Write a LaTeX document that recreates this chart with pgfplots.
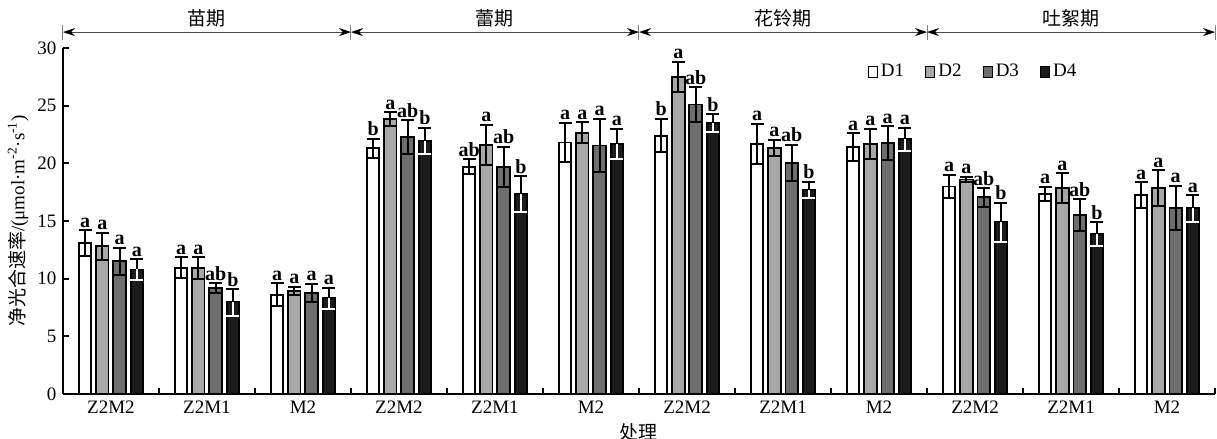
\documentclass[border=0pt]{standalone}
\usepackage{fontspec}
\setmainfont{Liberation Serif}
\newfontfamily\cjk{Noto Sans CJK SC}
\usepackage{pgfplots}
\usepackage{pgfplotstable}
\pgfplotsset{compat=1.18}
\usetikzlibrary{arrows.meta}

\definecolor{cD2}{HTML}{A8A8A8}
\definecolor{cD3}{HTML}{6E6E6E}
\definecolor{cD4}{HTML}{1C1C1C}

\pgfplotstableread{
x y e lab
0 13.1 1.1 a
1 10.95 0.9 a
2 8.6 1.0 a
3 21.3 0.85 b
4 19.7 0.65 ab
5 21.8 1.7 a
6 22.4 1.45 b
7 21.7 1.75 a
8 21.4 1.2 a
9 18.0 1.0 a
10 17.35 0.6 a
11 17.25 1.1 a
}\dA
\pgfplotstableread{
x y e lab
0 12.8 1.2 a
1 10.9 0.95 a
2 8.95 0.35 a
3 23.85 0.6 a
4 21.6 1.75 a
5 22.65 0.9 a
6 27.5 1.3 a
7 21.35 0.7 a
8 21.7 1.3 a
9 18.6 0.25 a
10 17.85 1.3 a
11 17.85 1.55 a
}\dB
\pgfplotstableread{
x y e lab
0 11.5 1.2 a
1 9.2 0.4 ab
2 8.75 0.8 a
3 22.3 1.45 ab
4 19.7 1.75 ab
5 21.55 2.3 a
6 25.1 1.5 ab
7 20.05 1.55 ab
8 21.75 1.45 a
9 17.05 0.8 ab
10 15.5 1.4 ab
11 16.15 1.9 a
}\dC
\pgfplotstableread{
x y e lab
0 10.8 0.9 a
1 7.95 1.15 b
2 8.3 0.9 a
3 21.95 1.15 b
4 17.35 1.55 b
5 21.7 1.3 a
6 23.5 0.75 b
7 17.7 0.7 b
8 22.1 1.0 a
9 14.9 1.7 b
10 13.85 1.05 b
11 16.1 1.15 a
}\dD

\pgfplotsset{
  mylab/.style={draw=none, mark=none, forget plot, nodes near coords, point meta=explicit symbolic,
    every node near coord/.append style={anchor=south, inner sep=1.2pt, font=\bfseries\fontsize{10}{10}\selectfont, black}},
}
\tikzset{
  brk/.style={gray!60!black, line width=0.5pt, {Stealth[length=6pt,width=4pt,black]}-{Stealth[length=6pt,width=4pt,black]}},
  btk/.style={gray, line width=0.5pt},
}

\begin{document}
\fontsize{9.5}{11}\selectfont
\begin{tikzpicture}
\begin{axis}[
  at={(0pt,0pt)}, anchor=south west,
  scale only axis, width=576pt, height=173pt,
  xmin=-0.5, xmax=11.5, ymin=0, ymax=30,
  axis x line*=bottom, axis y line*=left,
  axis line style={line width=1pt},
  ytick={0,5,...,30},
  xtick={0,...,11},
  xticklabels={Z2M2,Z2M1,M2,Z2M2,Z2M1,M2,Z2M2,Z2M1,M2,Z2M2,Z2M1,M2},
  minor xtick={-0.5,0.5,...,11.5},
  tick align=inside,
  major tick length=3pt, minor tick length=3pt,
  tick style={line width=1pt, black},
  every major x tick/.append style={draw=none},
  clip=false,
  /pgf/number format/assume math mode=true,
  xlabel={\cjk 处理},
  xlabel style={at={(rel axis cs:0.5,-0.11)}, anchor=center},
  ylabel={{\cjk 净光合速率}/(μmol·m\textsuperscript{-2}·s\textsuperscript{-1})},
  ylabel style={at={(rel axis cs:-0.039,0.5)}, anchor=center},
  legend style={at={(rel axis cs:0.693,0.931)}, anchor=west, draw=none, fill=none,
    legend columns=4, /tikz/every even column/.append style={column sep=9pt},
    nodes={inner sep=1.5pt}, font=\fontsize{9.5}{11}\selectfont},
]
\addplot[ybar, bar width=0.13, bar shift=0pt, fill=white, draw=black, line width=0.9pt,
  legend image code/.code={\draw[fill=white,draw=black,line width=0.6pt] (0pt,-2.75pt) rectangle (4.5pt,2.75pt);},
  error bars/.cd, y dir=both, y explicit,
  error bar style={line width=1pt,black},
  error mark options={rotate=90,mark size=3.25pt,line width=1pt,black}] table[x expr=\thisrow{x}-0.27,y=y,y error=e]{\dA};
\addplot[ybar, bar width=0.13, bar shift=0pt, fill=cD2, draw=black, line width=0.9pt,
  legend image code/.code={\draw[fill=cD2,draw=black,line width=0.6pt] (0pt,-2.75pt) rectangle (4.5pt,2.75pt);},
  error bars/.cd, y dir=both, y explicit,
  error bar style={line width=1pt,black},
  error mark options={rotate=90,mark size=3.25pt,line width=1pt,black}] table[x expr=\thisrow{x}-0.09,y=y,y error=e]{\dB};
\addplot[ybar, bar width=0.13, bar shift=0pt, fill=cD3, draw=black, line width=0.9pt,
  legend image code/.code={\draw[fill=cD3,draw=black,line width=0.6pt] (0pt,-2.75pt) rectangle (4.5pt,2.75pt);},
  error bars/.cd, y dir=both, y explicit,
  error bar style={line width=1pt,black},
  error mark options={rotate=90,mark size=3.25pt,line width=1pt,black}] table[x expr=\thisrow{x}+0.09,y=y,y error=e]{\dC};
\addplot[ybar, bar width=0.13, bar shift=0pt, fill=cD4, draw=black, line width=0.9pt,
  legend image code/.code={\draw[fill=cD4,draw=black,line width=0.6pt] (0pt,-2.75pt) rectangle (4.5pt,2.75pt);},
  error bars/.cd, y dir=plus, y explicit,
  error bar style={line width=1pt,black},
  error mark options={rotate=90,mark size=3.25pt,line width=1pt,black}] table[x expr=\thisrow{x}+0.27,y=y,y error=e]{\dD};
\addplot[ybar, bar width=0.13, bar shift=0pt, draw=none, fill=none, forget plot,
  error bars/.cd, y dir=minus, y explicit,
  error bar style={line width=1pt,white},
  error mark options={rotate=90,mark size=3.25pt,line width=1pt,white}] table[x expr=\thisrow{x}+0.27,y=y,y error=e]{\dD};
\legend{D1,D2,D3,D4}

\addplot[mylab] table[x expr=\thisrow{x}-0.27, y expr=\thisrow{y}+\thisrow{e}, meta=lab]{\dA};
\addplot[mylab] table[x expr=\thisrow{x}-0.09, y expr=\thisrow{y}+\thisrow{e}, meta=lab]{\dB};
\addplot[mylab] table[x expr=\thisrow{x}+0.09, y expr=\thisrow{y}+\thisrow{e}, meta=lab]{\dC};
\addplot[mylab] table[x expr=\thisrow{x}+0.27, y expr=\thisrow{y}+\thisrow{e}, meta=lab]{\dD};

\draw[btk] (rel axis cs:0,1.023) -- (rel axis cs:0,1.066);
\draw[btk] (rel axis cs:0.25,1.023) -- (rel axis cs:0.25,1.066);
\draw[btk] (rel axis cs:0.5,1.023) -- (rel axis cs:0.5,1.066);
\draw[btk] (rel axis cs:0.75,1.023) -- (rel axis cs:0.75,1.066);
\draw[btk] (rel axis cs:1,1.023) -- (rel axis cs:1,1.066);
\draw[brk] (rel axis cs:0,1.046) -- (rel axis cs:0.25,1.046);
\draw[brk] (rel axis cs:0.25,1.046) -- (rel axis cs:0.5,1.046);
\draw[brk] (rel axis cs:0.5,1.046) -- (rel axis cs:0.75,1.046);
\draw[brk] (rel axis cs:0.75,1.046) -- (rel axis cs:1,1.046);
\node[font=\cjk] at (rel axis cs:0.125,1.087) {苗期};
\node[font=\cjk] at (rel axis cs:0.375,1.087) {蕾期};
\node[font=\cjk] at (rel axis cs:0.625,1.087) {花铃期};
\node[font=\cjk] at (rel axis cs:0.875,1.087) {吐絮期};
\end{axis}
\pgfresetboundingbox
\path[use as bounding box] (-31.5pt,-22.5pt) rectangle (577pt,197pt);
\end{tikzpicture}
\end{document}
